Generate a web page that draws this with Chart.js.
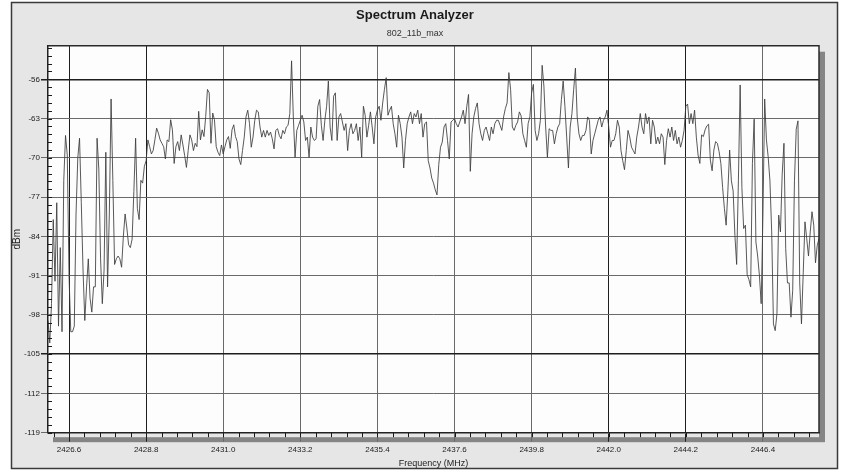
<!DOCTYPE html>
<html>
<head>
<meta charset="utf-8">
<title>Spectrum Analyzer</title>
<script src="https://cdn.jsdelivr.net/npm/chart.js@4.4.1/dist/chart.umd.min.js"></script>
<style>
  html, body { margin: 0; padding: 0; background: #fff; }
  #wrap { width: 845px; height: 471px; }
</style>
</head>
<body>
<div id="wrap"><canvas id="chart" width="845" height="471"></canvas></div>
<script>
// trace is sampled every 0.05 MHz starting at 2426.0
const startFreq = 2426.0;
const stepFreq = 0.05;

// dBm values, one row per MHz
const levels = [
  -99, -103, -96, -81, -92, -78, -100, -86, -101, -74, -66, -69.5, -91, -101, -101, -100, -80, -70, -66.5, -78,
  -90, -99, -93, -88, -95, -97.5, -93, -93, -66.5, -72, -88, -96, -90, -69, -93, -80, -59.5, -74, -89, -88,
  -87.5, -88, -89.5, -84, -80, -82.5, -85.5, -86, -84.5, -76, -66.5, -79, -81, -74, -74.5, -71.5, -70.5, -66.8, -68, -69.3,
  -68.7, -66.8, -64.7, -65.6, -66.8, -67.4, -68, -70.2, -66.8, -67.1, -63.2, -65, -71, -68, -67.1, -68.7, -65.9, -67.7, -69.6, -71.7,
  -68.7, -65.9, -66.8, -68.7, -67.4, -68, -61.7, -66.8, -65, -66.2, -62.6, -57.8, -58.4, -67.4, -62, -63.2, -68, -69, -69.6, -67.7,
  -69.3, -68, -66.8, -66.2, -68.3, -65, -64.1, -66.2, -67.1, -70.2, -71.2, -68.7, -66.3, -62.7, -61.5, -63.9, -68.1, -66.3, -63.3, -61.5,
  -61.8, -64.5, -66.3, -65.1, -66.3, -65.1, -66, -65.4, -66.6, -68.4, -65.1, -64.8, -66, -66.6, -65.1, -65.7, -64.5, -64.2, -62.1, -52.7,
  -62.7, -69.9, -65.1, -64.2, -63.3, -62.4, -63.6, -66.9, -66.3, -69.9, -64.5, -66.3, -66.9, -66.6, -60.8, -59.6, -64.2, -66.9, -63.3, -60.8,
  -56.3, -64.5, -66.9, -59, -58.4, -66.9, -62.7, -62.1, -63.6, -65.1, -63.9, -68.7, -65.1, -63.9, -65.7, -65.1, -63.9, -66.9, -64.5, -69.9,
  -60.8, -62.4, -66.3, -64.2, -61.8, -64.5, -67.5, -62.7, -61.5, -60.8, -63.3, -60.2, -57.8, -55.7, -62.4, -61.5, -60.8, -63.9, -65.7, -68.1,
  -62.4, -63.9, -66.3, -71.8, -66.9, -63.9, -62.7, -61.8, -63.9, -62.1, -62.7, -61.5, -63.9, -62.1, -66.3, -63.9, -63.6, -70.5, -71.8, -73.6,
  -74.5, -75.7, -76.6, -71.2, -68.1, -67.2, -64.5, -63.9, -66.9, -70.2, -63.6, -63.3, -63, -63.9, -64.5, -63.6, -62.7, -61.5, -63.9, -60.8,
  -58.7, -72.4, -65.7, -62.7, -61.2, -60.2, -63.9, -65.7, -66.9, -65.1, -64.5, -65.7, -66.9, -64.5, -65.7, -63.9, -63.3, -63.3, -64.2, -65.1,
  -62.7, -61.2, -60.2, -54.8, -57.8, -64.5, -65.1, -64.2, -63.6, -61.8, -62.5, -65.7, -66.9, -68.1, -63.9, -62.7, -58.4, -56.9, -65.1, -66.9,
  -65.7, -63.3, -53.5, -57.2, -64.5, -69.9, -64.8, -65.1, -65.1, -67.5, -65.7, -64.5, -63.9, -59.6, -56.3, -60.8, -66.3, -71.8, -64.5, -62.1,
  -57.8, -54, -62.7, -65.7, -66.9, -66, -66, -65.1, -62.7, -63.3, -69.3, -66.9, -65.7, -64.5, -63.3, -62.7, -64.5, -63.3, -62.7, -61.5,
  -64.5, -68.1, -66.9, -66.9, -65.7, -63.3, -64.5, -68.7, -70.5, -72.1, -68.7, -65.1, -66.3, -68.1, -68.7, -69.3, -66.3, -64.5, -62.1, -64.5,
  -65.7, -62.1, -63.9, -62.7, -67.5, -63.3, -64.5, -67.5, -66.3, -67.5, -65.7, -66.3, -71.2, -66.9, -64.8, -66.3, -64.5, -66.9, -65.1, -67.5,
  -66.3, -68.1, -66.9, -65.1, -60.8, -60.4, -63.9, -62.1, -63.9, -61.5, -66.3, -69.5, -71, -65.9, -66.2, -65, -64.3, -64, -70.4, -72.3,
  -68.6, -67.1, -67.4, -68.9, -71, -75.3, -79, -82, -75.9, -68.6, -74.1, -75.9, -83.8, -89, -74.1, -57, -75.3, -82.6, -82, -90.8,
  -91.7, -93, -71, -63.1, -85, -87.5, -91, -96, -80.2, -59.5, -66.8, -69.8, -74.1, -83.2, -99.6, -100.8, -97.8, -80.2, -83.2, -72.9,
  -67.4, -86.2, -92.3, -92.3, -98.4, -93.6, -74.1, -64.9, -63.4, -92.3, -99.6, -90.5, -81.4, -84.4, -87.5, -83.2, -79.6, -82, -88.7, -85.6,
  -84.4
];

// axis ticks
const freqTicks = [2426.6, 2428.8, 2431.0, 2433.2, 2435.4, 2437.6, 2439.8, 2442.0, 2444.2, 2446.4];
const levelTicks = [-119, -112, -105, -98, -91, -84, -77, -70, -63, -56];
const darkFreqLines = [2426.6, 2428.8, 2442.0, 2444.2];
const darkLevelLines = [-56, -105];

const freqMin = 2426, freqMax = 2448;
const levelMin = -119, levelMax = -50;
const minorFreqStep = 0.44;
const minorLevelStep = 1.4;

const points = levels.map((v, i) => ({ x: +(startFreq + i * stepFreq).toFixed(2), y: v }));

// window background, shadow, frame and the small minor ticks
const analyzerFrame = {
  id: 'analyzerFrame',
  beforeDraw(chart) {
    const { ctx, chartArea: a } = chart;
    ctx.save();
    ctx.fillStyle = '#ffffff';
    ctx.fillRect(0, 0, chart.width, chart.height);
    ctx.fillStyle = '#e6e6e6';
    ctx.fillRect(11, 2, 827, 467);
    ctx.strokeStyle = '#3a3a3a';
    ctx.lineWidth = 1.5;
    ctx.strokeRect(11.5, 2.5, 826, 466);
    // drop shadow of the plot panel
    ctx.fillStyle = '#858585';
    ctx.fillRect(a.right, a.top + 6, 6, a.bottom - a.top + 3);
    ctx.fillRect(a.left + 5, a.bottom + 4.5, a.right - a.left + 1, 5);
    ctx.fillStyle = '#fdfdfd';
    ctx.fillRect(a.left, a.top, a.right - a.left, a.bottom - a.top);
    ctx.restore();
  },
  afterDraw(chart) {
    const { ctx, chartArea: a } = chart;
    const xs = chart.scales.x, ys = chart.scales.y;
    ctx.save();
    ctx.strokeStyle = '#2a2a2a';
    ctx.lineWidth = 1.5;
    ctx.beginPath();
    ctx.moveTo(a.left, a.top);
    ctx.lineTo(a.right, a.top);
    ctx.lineTo(a.right, a.bottom);
    ctx.stroke();

    ctx.lineWidth = 1;
    ctx.strokeStyle = '#1a1a1a';
    ctx.beginPath();
    for (let v = levelMin; v < levelMax; v += minorLevelStep) {
      const py = Math.round(ys.getPixelForValue(v)) + 0.5;
      ctx.moveTo(a.left, py);
      ctx.lineTo(a.left + 4, py);
    }
    for (let v = freqTicks[0] - minorFreqStep; v < freqMax; v += minorFreqStep) {
      if (v < freqMin) continue;
      const px = Math.round(xs.getPixelForValue(v)) + 0.5;
      ctx.moveTo(px, a.bottom);
      ctx.lineTo(px, a.bottom + 4.5);
    }
    ctx.stroke();
    ctx.restore();
  }
};

const font = 'Liberation Sans, Arial, sans-serif';

new Chart(document.getElementById('chart'), {
  type: 'line',
  data: {
    datasets: [{
      label: '802_11b_max',
      data: points,
      borderColor: 'rgba(60,60,60,0.85)',
      borderWidth: 1,
      pointRadius: 0,
      tension: 0,
      fill: false
    }]
  },
  options: {
    responsive: false,
    animation: false,
    devicePixelRatio: 1,
    layout: { padding: { top: 2, left: 11, right: 26, bottom: 2 } },
    plugins: {
      legend: { display: false },
      tooltip: { enabled: false },
      title: {
        display: true,
        text: 'Spectrum Analyzer',
        color: '#1a1a1a',
        font: { family: font, size: 13, weight: 'bold' },
        padding: { top: 6, bottom: 0 }
      },
      subtitle: {
        display: true,
        text: '802_11b_max',
        color: '#333',
        font: { family: font, size: 9 },
        padding: { top: 5, bottom: 6.3 }
      }
    },
    scales: {
      x: {
        type: 'linear',
        min: freqMin,
        max: freqMax,
        afterBuildTicks: s => { s.ticks = freqTicks.map(v => ({ value: v })); },
        afterFit: s => { s.height = 36.3; },
        ticks: {
          autoSkip: false,
          maxRotation: 0,
          padding: 3,
          color: '#222',
          font: { family: font, size: 8 },
          callback: v => v.toFixed(1)
        },
        grid: {
          color: c => (c.tick && darkFreqLines.includes(c.tick.value)) ? '#1e1e1e' : '#6a6a6a',
          lineWidth: 1,
          tickLength: 9
        },
        border: { color: '#222', width: 1.5 },
        title: {
          display: true,
          text: 'Frequency (MHz)',
          color: '#222',
          font: { family: font, size: 9 },
          padding: { top: 0, bottom: 0 }
        }
      },
      y: {
        min: levelMin,
        max: levelMax,
        afterBuildTicks: s => { s.ticks = levelTicks.map(v => ({ value: v })); },
        afterFit: s => { s.width = 37; },
        ticks: {
          padding: 1,
          color: '#222',
          font: { family: font, size: 8 }
        },
        grid: {
          color: c => (c.tick && darkLevelLines.includes(c.tick.value)) ? '#1e1e1e' : '#6a6a6a',
          lineWidth: c => (c.tick && darkLevelLines.includes(c.tick.value)) ? 1.5 : 1,
          tickLength: 7
        },
        border: { color: '#222', width: 1.5 },
        title: {
          display: true,
          text: 'dBm',
          color: '#222',
          font: { family: font, size: 10 },
          padding: { top: 0, bottom: 0 }
        }
      }
    }
  },
  plugins: [analyzerFrame]
});
</script>
</body>
</html>
